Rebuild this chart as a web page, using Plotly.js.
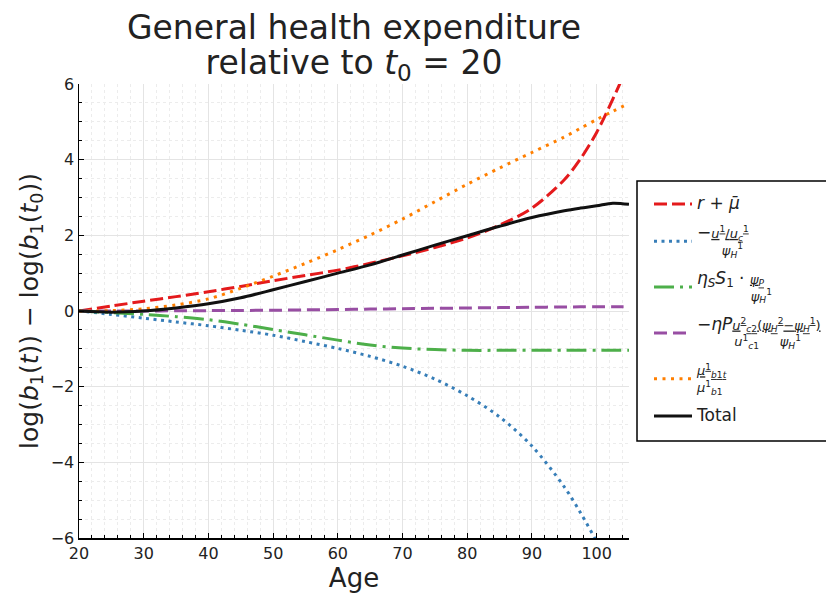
<!DOCTYPE html>
<html>
<head>
<meta charset="utf-8">
<script src="https://cdn.plot.ly/plotly-3.0.1.min.js"></script>
<style>html,body{margin:0;padding:0;background:#fff;}#chart{width:826px;height:594px;}</style>
</head>
<body>
<div id="chart"></div>
<script>
const ages   = [20,25,30,35,40,45,50,55,60,65,70,75,80,85,90,95,97.5,100,102.5,105];
const rMu    = [0,0.13,0.26,0.38,0.51,0.65,0.8,0.94,1.08,1.26,1.46,1.68,1.93,2.27,2.72,3.47,4.02,4.72,5.6,6.55];
const uTerm  = [0,-0.09,-0.19,-0.29,-0.39,-0.51,-0.64,-0.81,-0.99,-1.2,-1.46,-1.8,-2.24,-2.8,-3.57,-4.65,-5.33,-6.1,-6.95,-7.85];
const etaS   = [0,-0.04,-0.09,-0.15,-0.23,-0.35,-0.49,-0.63,-0.77,-0.9,-0.98,-1.02,-1.04,-1.04,-1.04,-1.04,-1.04,-1.04,-1.04,-1.04];
const etaP   = [0,0,0,0.005,0.01,0.015,0.02,0.03,0.04,0.05,0.06,0.07,0.08,0.09,0.1,0.105,0.11,0.11,0.11,0.11];
const muTerm = [0,0.01,0.06,0.16,0.32,0.6,0.92,1.26,1.62,2.01,2.43,2.89,3.35,3.78,4.19,4.6,4.83,5.06,5.28,5.49];
const total  = [0,-0.03,0.0,0.08,0.19,0.35,0.56,0.78,1.0,1.22,1.48,1.74,1.99,2.24,2.47,2.65,2.72,2.78,2.85,2.82];

const NB = '\u00a0';
const sp = n => NB.repeat(n);
const psiH1 = '<i>ψ</i><sub><i>H</i></sub><sup>1</sup>';
const names = [
  '<span style="font-size:17px"><i>r</i> + <i>μ̄</i></span>',
  '<span style="font-size:17px">−</span><u><i>u</i><sup>1</sup>/<i>u</i><sub><i>c</i></sub><sup>1</sup></u><br>' + sp(6) + psiH1,
  '<span style="font-size:17px"><i>η</i><sub><i>S</i></sub><i>S</i><sub>1</sub> · </span><u><i>ψ</i><sub><i>P</i></sub></u><br>' + sp(13) + psiH1,
  '<span style="font-size:17px">−<i>ηP</i></span><u><i>u</i><sup>2</sup><sub><i>c</i>2</sub></u><u>(<i>ψ</i><sub><i>H</i></sub><sup>2</sup>−<i>ψ</i><sub><i>H</i></sub><sup>1</sup>)</u><br>' + sp(9) + '<i>u</i><sup>1</sup><sub><i>c</i>1</sub>' + sp(5) + psiH1,
  '<u><i>μ</i><sup>1</sup><sub><i>b</i>1<i>t</i></sub></u><br><i>μ</i><sup>1</sup><sub><i>b</i>1</sub>',
  '<span style="font-size:17px">Total</span>'
];
const series = [rMu, uTerm, etaS, etaP, muTerm, total];
const colors = ['#e41a1c','#377eb8','#4daf4a','#984ea3','#ff7f00','#111111'];
const dashes = ['13px,5px','3px,4.5px','20px,6px,3px,6px','13px,6px','3px,5.5px','solid'];

const traces = series.map((ys, i) => ({
  x: ages, y: ys, type: 'scatter', mode: 'lines', name: names[i],
  legendgroup: 'g' + i,
  line: {color: colors[i], width: 3, dash: dashes[i], shape: 'spline', smoothing: 0.9},
  hoverinfo: 'skip'
}));

const axisCommon = {
  showline: true, linecolor: '#000', linewidth: 1.5,
  ticks: 'inside', ticklen: 5, tickcolor: '#000', tickwidth: 1,
  showgrid: true, gridcolor: '#e4e4e4', gridwidth: 1,
  zeroline: false, mirror: false, automargin: false,
  tickfont: {family: 'DejaVu Sans', size: 16, color: '#222'}
};

const layout = {
  width: 826, height: 594,
  margin: {l: 79, r: 197, t: 84, b: 56},
  paper_bgcolor: '#fff', plot_bgcolor: '#fff',
  font: {family: 'DejaVu Sans', color: '#222'},
  title: {
    text: '<span style="font-size:33px">General health expenditure</span><br><span style="font-size:33px">relative to <i>t</i><sub>0</sub> = 20</span>',
    font: {family: 'DejaVu Sans', size: 27, color: '#222'},
    x: 0.5, xref: 'paper', y: 0.935, yref: 'container', yanchor: 'top'
  },
  xaxis: Object.assign({}, axisCommon, {
    range: [20, 105], dtick: 10, tick0: 20,
    minor: {dtick: 2, ticks: 'inside', ticklen: 3, tickcolor: '#000', showgrid: true, gridcolor: '#ececec', griddash: 'dot'},
    title: {text: 'Age', font: {family: 'DejaVu Sans', size: 26, color: '#222'}, standoff: 6}
  }),
  yaxis: Object.assign({}, axisCommon, {
    range: [-6, 6], dtick: 2, tick0: 0,
    minor: {dtick: 0.5, ticks: 'inside', ticklen: 3, tickcolor: '#000', showgrid: true, gridcolor: '#ececec', griddash: 'dot'},
    title: {text: 'log(<i>b</i><sub>1</sub>(<i>t</i>)) − log(<i>b</i><sub>1</sub>(<i>t</i><sub>0</sub>))', font: {family: 'DejaVu Sans', size: 25, color: '#222'}, standoff: 5}
  }),
  shapes: [{
    type: 'rect', xref: 'paper', yref: 'paper', layer: 'below',
    x0: 1.01455, x1: 1.37, y0: 0.2137, y1: 0.7863,
    line: {color: '#000', width: 1.5}, fillcolor: '#fff'
  }],
  legend: {
    xref: 'container', yref: 'container',
    x: 649 / 826, xanchor: 'left', y: (594 - 189) / 594, yanchor: 'top',
    bgcolor: 'rgba(0,0,0,0)', borderwidth: 0,
    font: {family: 'DejaVu Sans', size: 13, color: '#222'},
    tracegroupgap: 9, itemwidth: 38, valign: 'middle'
  },
  showlegend: true
};

Plotly.newPlot('chart', traces, layout, {displayModeBar: false, staticPlot: true});
</script>
</body>
</html>
